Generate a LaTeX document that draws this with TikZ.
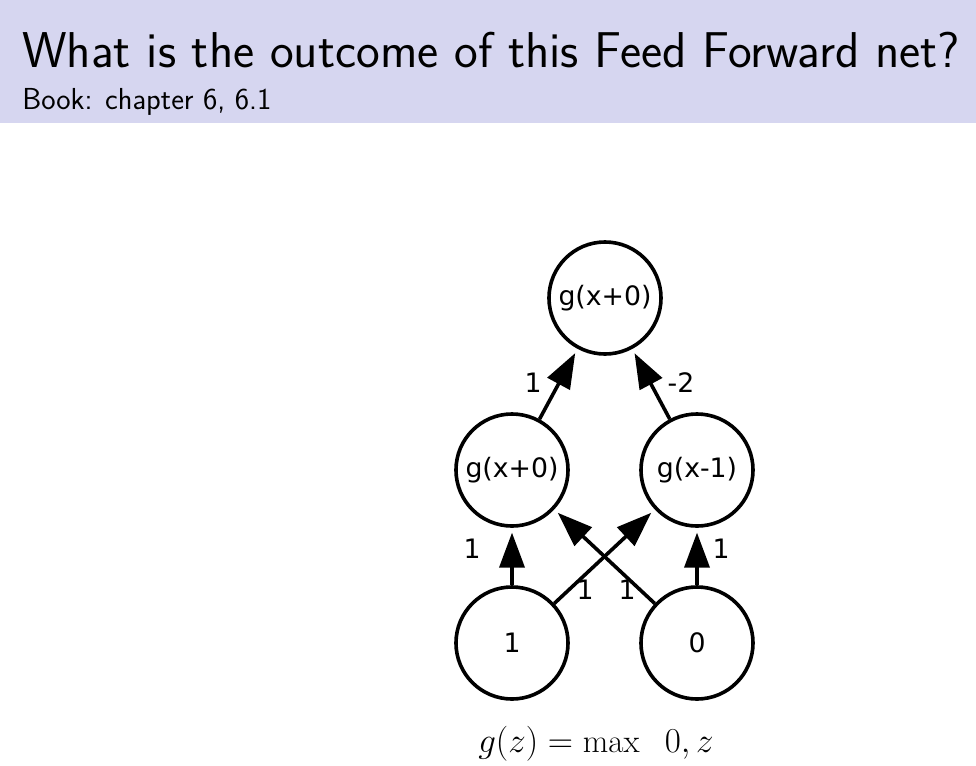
\documentclass[tikz,border=0pt]{standalone}
\usepackage{fontspec}
\newfontfamily\netfont{DejaVu Sans}
\usepackage{tikz}
\usetikzlibrary{arrows.meta, positioning}

\definecolor{headbg}{RGB}{214,214,240}

\begin{document}
\begin{tikzpicture}[
            x=0.025cm, y=-0.025cm,
            neuron/.style={draw, circle, line width=0.09cm, minimum size=2.8cm,
                inner sep=0pt, font=\netfont\fontsize{19}{21}\selectfont},
            weight/.style={font=\netfont\fontsize{19}{21}\selectfont, inner sep=0pt},
            link/.style={line width=0.09cm, shorten >=0.12cm,
                -{Triangle[length=0.875cm, width=0.625cm]}}
        ]

        \useasboundingbox (0,0) rectangle (976,765);

        % slide header
        \fill[headbg] (0,0) rectangle (976,123);
        \node[anchor=base west, inner sep=0pt, font=\sffamily\fontsize{35.8}{40}\selectfont]
            (title) at (22,67) {What is the outcome of this Feed Forward net?};
        \node[anchor=base west, inner sep=0pt, font=\sffamily\fontsize{21.6}{24}\selectfont]
            (book) at (22,109) {Book: chapter 6, 6.1};

        % network
        \node[neuron] (in1) at (512,643) {1};
        \node[neuron] (in2) at (697,643) {0};
        \node[neuron] (h1) at (512,470) {g(x+0)};
        \node[neuron] (h2) at (697,470) {g(x-1)};
        \node[neuron] (out) at (605,298) {g(x+0)};

        \draw[link] (in1) -- (h1);
        \draw[link] (in2) -- (h2);
        \draw[link] (in1) -- (h2);
        \draw[link] (in2) -- (h1);
        \draw[link] (h1) -- (out);
        \draw[link] (h2) -- (out);

        % weights
        \node[weight] (w11) at (472,549) {1};
        \node[weight] (w22) at (721,549) {1};
        \node[weight] (w12) at (585,590) {1};
        \node[weight] (w21) at (627,590) {1};
        \node[weight] (w1o) at (533,383) {1};
        \node[weight] (w2o) at (681,383) {-2};

        % activation
        \node[anchor=base, inner sep=0pt, font=\fontsize{23.5}{26}\selectfont]
            (act) at (596,752) {$g(z) = \max\;\; 0, z$};

    \end{tikzpicture}
\end{document}
